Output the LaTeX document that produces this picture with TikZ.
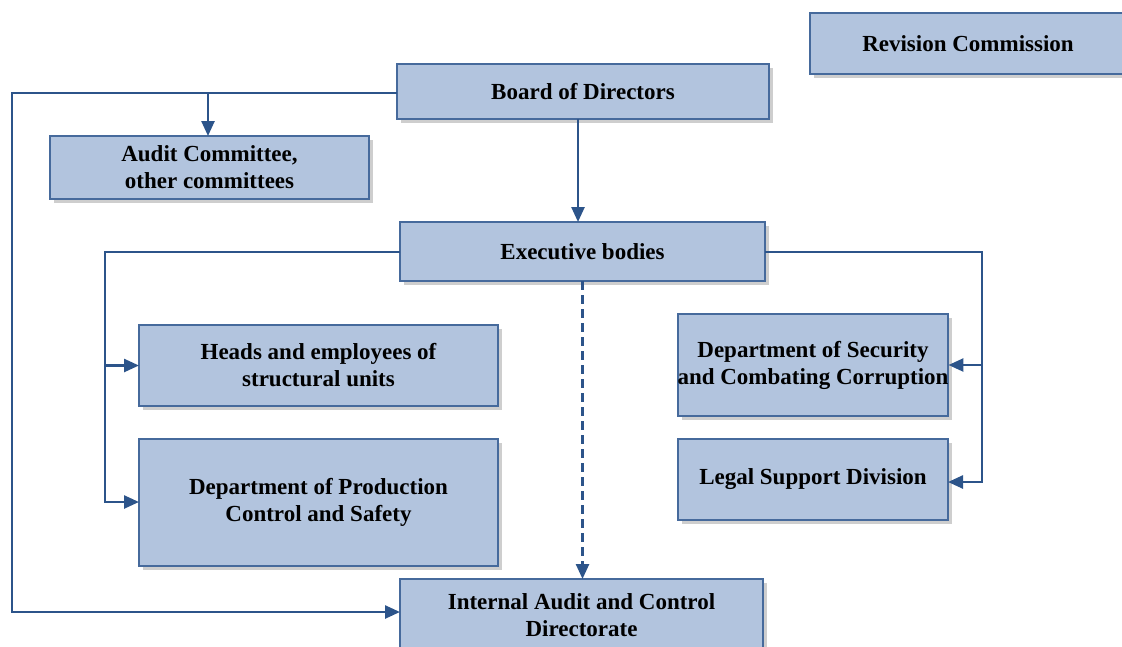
\documentclass[tikz,border=0pt]{standalone}
\usepackage{fontspec}
\setmainfont{Liberation Serif}
\usetikzlibrary{arrows.meta,shadows}
\definecolor{boxfill}{RGB}{178,196,222}
\definecolor{boxline}{RGB}{70,106,156}
\definecolor{conncol}{RGB}{44,84,138}
\tikzset{
  box/.style={draw=boxline, line width=2pt, fill=boxfill, inner sep=0pt, outer sep=0pt,
    align=center, font=\fontsize{23}{27}\selectfont\bfseries,
    drop shadow={shadow xshift=4pt, shadow yshift=-4pt, fill=black!35, opacity=0.55}},
  conn/.style={draw=conncol, line width=2.5pt},
  arr/.style={conn, -{Triangle[length=15pt,width=13pt]}},
}
\begin{document}
\begin{tikzpicture}[x=1pt,y=-1pt]
\useasboundingbox (0,0) rectangle (1122,646);
\node[box, minimum width=316, minimum height=61] (rev) at (968,43.5) {Revision Commission};
\node[box, minimum width=372, minimum height=55] (board) at (583,91.5) {Board of Directors};
\node[box, minimum width=319, minimum height=63] (audit) at (209.5,167.5) {Audit Committee,\\other committees};
\node[box, minimum width=365, minimum height=59] (exec) at (582.5,251.5) {Executive bodies};
\node[box, minimum width=359, minimum height=81] (heads) at (318.5,365.5) {Heads and employees of\\structural units};
\node[box, minimum width=359, minimum height=127] (dpc) at (318.5,502.5) {Department of Production\\Control and Safety};
\node[box, minimum width=270, minimum height=102] (sec) at (813,365) {Department of Security\\and Combating Corruption};
\node[box, minimum width=270, minimum height=81] (legal) at (813,479.5) {Legal Support Division};
\node[box, minimum width=363, minimum height=73] (ia) at (581.5,615.5) {Internal Audit and Control\\Directorate};
% connectors
\coordinate (lc1) at (12,93);
\coordinate (lc2) at (12,612);
\coordinate (bx) at (578,0);
\coordinate (ax) at (208,93);
\coordinate (el1) at (105,252);
\coordinate (el2) at (105,502);
\coordinate (er1) at (982,252);
\coordinate (er2) at (982,482);
\draw[arr] (board.west |- lc1) -- (lc1) -- (lc2) -- (ia.west |- lc2);
\draw[arr] (ax) -- (audit.north -| ax);
\draw[arr] (board.south -| bx) -- (exec.north -| bx);
\draw[arr] (exec.west |- el1) -- (el1) -- (el2) -- (dpc.west |- el2);
\draw[arr] (heads.west -| el1) -- (heads.west);
\draw[arr] (exec.east |- er1) -- (er1) -- (er2) -- (legal.east |- er2);
\draw[arr] (sec.east -| er1) -- (sec.east);
\draw[arr, dash pattern=on 9pt off 5pt] (exec.south) -- (exec.south |- ia.north);
\end{tikzpicture}
\end{document}
